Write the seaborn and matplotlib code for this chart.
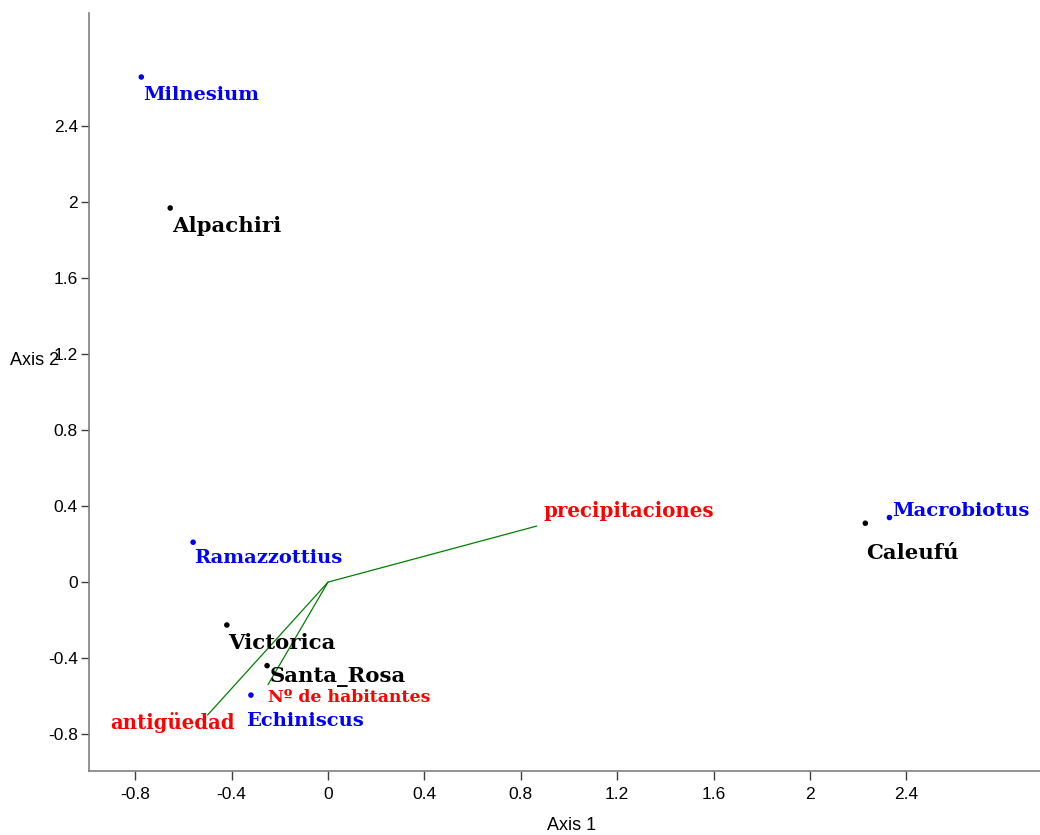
import matplotlib
matplotlib.use("Agg")
import matplotlib.pyplot as plt
import seaborn as sns
import pandas as pd

# site scores (black)
sites = ["Alpachiri", "Victorica", "Santa_Rosa", "Caleufú"]
site_x = [-0.655, -0.42, -0.253, 2.23]
site_y = [1.97, -0.226, -0.44, 0.31]

# genus scores (blue)
genera = ["Milnesium", "Ramazzottius", "Echiniscus", "Macrobiotus"]
genus_x = [-0.775, -0.56, -0.32, 2.33]
genus_y = [2.66, 0.21, -0.595, 0.34]

# environmental vectors (red labels, green lines)
env = ["precipitaciones", "antigüedad", "Nº de habitantes"]
env_x = [0.866, -0.50, -0.249]
env_y = [0.295, -0.70, -0.54]

x_ticks = [-0.8, -0.4, 0, 0.4, 0.8, 1.2, 1.6, 2, 2.4]
y_ticks = [-0.8, -0.4, 0, 0.4, 0.8, 1.2, 1.6, 2, 2.4]

# label offsets in pixels (text left edge, text centre) from each point
site_off = [(2, -18), (1, -18), (3, -11), (1, -30)]
genus_off = [(2, -18), (1, -16), (-5, -26), (3, 7)]
env_off = [(7, 15), (-97, -8), (0, -13)]
env_size = [14.2, 14.2, 12.4]

sns.set_style("ticks")
plt.rcParams["font.family"] = ["Liberation Sans", "DejaVu Sans"]

fig = plt.figure(figsize=(10.4, 8.35), dpi=100)
ax = fig.add_axes([0.0856, 0.0766, 0.9144, 0.9074])

df_sites = pd.DataFrame({"x": site_x, "y": site_y, "name": sites})
df_gen = pd.DataFrame({"x": genus_x, "y": genus_y, "name": genera})

# vectors from the origin
for ex, ey in zip(env_x, env_y):
    ax.plot([0, ex], [0, ey], color="#008000", lw=0.9, zorder=1)

sns.scatterplot(data=df_sites, x="x", y="y", color="black", s=16,
                edgecolor="none", ax=ax, zorder=3)
sns.scatterplot(data=df_gen, x="x", y="y", color="blue", s=16,
                edgecolor="none", ax=ax, zorder=3)

serif = ["DejaVu Serif"]
for (_, r), off in zip(df_sites.iterrows(), site_off):
    ax.annotate(r["name"], (r["x"], r["y"]), xytext=off, textcoords="offset pixels",
                ha="left", va="center", fontsize=15.3, fontweight="bold",
                color="black", family=serif)
for (_, r), off in zip(df_gen.iterrows(), genus_off):
    ax.annotate(r["name"], (r["x"], r["y"]), xytext=off, textcoords="offset pixels",
                ha="left", va="center", fontsize=14, fontweight="bold",
                color="blue", family=serif)

for name, ex, ey, off, fs in zip(env, env_x, env_y, env_off, env_size):
    ax.annotate(name, (ex, ey), xytext=off, textcoords="offset pixels",
                ha="left", va="center", fontsize=fs,
                fontweight="bold", color="red", family=serif)

ax.set_xlim(-0.992, 2.955)
ax.set_ylim(-0.995, 2.995)
ax.set_xticks(x_ticks)
ax.set_xticklabels(["0" if v == 0 else f"{v:g}" for v in x_ticks])
ax.set_yticks(y_ticks)
ax.set_yticklabels(["0" if v == 0 else f"{v:g}" for v in y_ticks])
ax.tick_params(direction="out", width=1, color="#404040", labelsize=12.5,
               labelcolor="black")
ax.tick_params(axis="x", length=6.5, pad=5)
ax.tick_params(axis="y", length=6, pad=2)
sns.despine(ax=ax)
for s in ["left", "bottom"]:
    ax.spines[s].set_color("#808080")
    ax.spines[s].set_linewidth(1.2)

ax.set_xlabel("Axis 1", fontsize=13, color="black")
ax.xaxis.set_label_coords(0.507, -0.061)
ax.set_ylabel("Axis 2", fontsize=13, rotation=0, va="center", color="black")
ax.yaxis.set_label_coords(-0.057, 0.5424)

fig.savefig("out.png", dpi=100)
